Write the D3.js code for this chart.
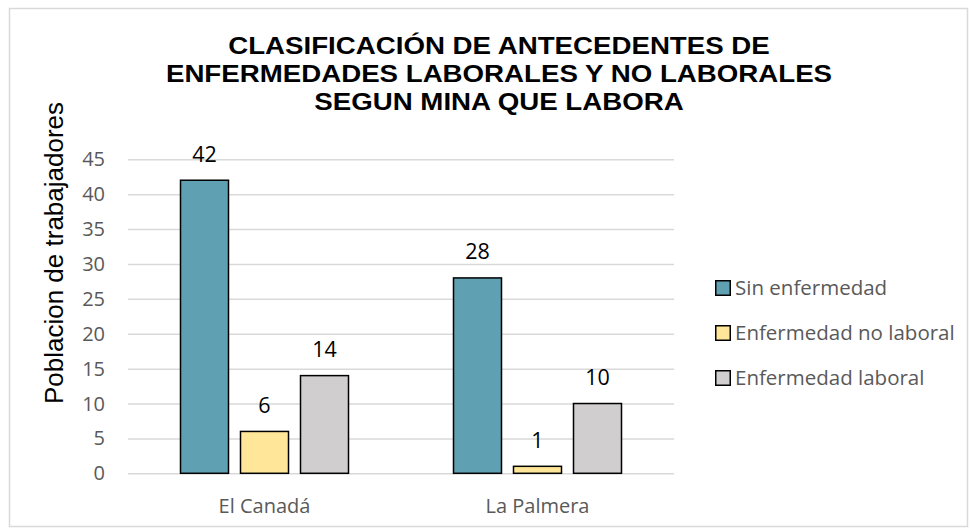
<!DOCTYPE html>
<html>
<head>
<meta charset="utf-8">
<script src="https://cdn.jsdelivr.net/npm/d3@7"></script>
<style>
  body { margin: 0; background: #fff; }
  .tick-label { font-family: "Open Sans", sans-serif; fill: #595959; }
  .grid line { stroke: #d9d9d9; stroke-width: 1.5; }
  .grid path { display: none; }
</style>
</head>
<body>
<svg id="chart" width="971" height="529"></svg>
<script>
// data
const categories = ['El Canadá', 'La Palmera'];
const seriesNames = ['Sin enfermedad', 'Enfermedad no laboral', 'Enfermedad laboral'];
const sinEnfermedad = [42, 28];
const enfermedadNoLaboral = [6, 1];
const enfermedadLaboral = [14, 10];
const yTicks = [0, 5, 10, 15, 20, 25, 30, 35, 40, 45];
const seriesColors = ['#5fa0b3', '#ffe699', '#d0cece'];
const titleLines = ['CLASIFICACIÓN DE ANTECEDENTES DE', 'ENFERMEDADES LABORALES Y NO LABORALES', 'SEGUN MINA QUE LABORA'];
const yTitle = 'Poblacion de trabajadores';

const seriesValues = [sinEnfermedad, enfermedadNoLaboral, enfermedadLaboral];

////////////////////////// SETUP //////////////////////////

const svg = d3.select('#chart');
const plot = { left: 128, right: 674, top: 159.3, bottom: 473.3 };

// chart frame
svg.append('rect')
  .attr('x', 9.5).attr('y', 8.5)
  .attr('width', 958).attr('height', 518)
  .attr('fill', '#fff')
  .attr('stroke', '#d9d9d9')
  .attr('stroke-width', 1.5);

const xScale = d3.scaleBand()
  .domain(categories)
  .range([plot.left, plot.right]);

const xSeries = d3.scaleBand()
  .domain(seriesNames)
  .range([0, xScale.bandwidth()])
  .paddingInner(0.2)
  .paddingOuter(0.875);

const yScale = d3.scaleLinear()
  .domain([0, 45])
  .range([plot.bottom, plot.top]);

const colorScale = d3.scaleOrdinal().domain(seriesNames).range(seriesColors);

////////////////////////// AXES //////////////////////////

// grid
svg.append('g')
  .attr('class', 'grid')
  .attr('transform', `translate(${plot.left},0)`)
  .call(d3.axisLeft(yScale).tickValues(yTicks).tickSize(-(plot.right - plot.left)).tickFormat(''));

// y tick labels
svg.append('g')
  .selectAll('text')
  .data(yTicks)
  .enter()
  .append('text')
  .attr('class', 'tick-label')
  .attr('x', 105)
  .attr('y', (d) => yScale(d))
  .attr('dy', '0.35em')
  .attr('text-anchor', 'end')
  .style('font-size', '20px')
  .text((d) => d);

// x category labels
svg.append('g')
  .selectAll('text')
  .data(categories)
  .enter()
  .append('text')
  .attr('class', 'tick-label')
  .attr('x', (d) => xScale(d) + xScale.bandwidth() / 2)
  .attr('y', 513)
  .attr('text-anchor', 'middle')
  .style('font-size', '20px')
  .text((d) => d);

// y axis title
svg.append('text')
  .attr('transform', 'translate(63,253) rotate(-90)')
  .attr('text-anchor', 'middle')
  .style('font-family', '"Liberation Sans", Arial, sans-serif')
  .style('font-size', '26px')
  .style('fill', '#000')
  .text(yTitle);

// title (slightly wide, like the original)
svg.append('g')
  .selectAll('text')
  .data(titleLines)
  .enter()
  .append('text')
  .attr('transform', (d, i) => `translate(499,${54 + i * 28}) scale(1.13,1)`)
  .attr('text-anchor', 'middle')
  .style('font-family', '"Liberation Sans", Arial, sans-serif')
  .style('font-weight', 'bold')
  .style('font-size', '24.5px')
  .style('fill', '#000')
  .text((d) => d);

////////////////////////// BARS //////////////////////////

const barData = [];
categories.forEach((c, ci) => {
  seriesNames.forEach((s, si) => {
    barData.push({ category: c, series: s, value: seriesValues[si][ci] });
  });
});

svg.append('g')
  .selectAll('rect')
  .data(barData)
  .enter()
  .append('rect')
  .attr('x', (d) => xScale(d.category) + xSeries(d.series))
  .attr('y', (d) => yScale(d.value))
  .attr('width', xSeries.bandwidth())
  .attr('height', (d) => plot.bottom - yScale(d.value))
  .style('fill', (d) => colorScale(d.series))
  .style('stroke', '#000')
  .style('stroke-width', 1.5);

// values on bars
svg.append('g')
  .selectAll('text')
  .data(barData)
  .enter()
  .append('text')
  .attr('x', (d) => xScale(d.category) + xSeries(d.series) + xSeries.bandwidth() / 2)
  .attr('y', (d) => yScale(d.value) - 18.5)
  .attr('text-anchor', 'middle')
  .style('font-family', '"Open Sans", sans-serif')
  .style('font-size', '21.5px')
  .style('fill', '#000')
  .text((d) => d.value);

////////////////////////// LEGEND //////////////////////////

const legend = svg.append('g')
  .selectAll('g')
  .data(seriesNames)
  .enter()
  .append('g')
  .attr('transform', (d, i) => `translate(715,${288 + i * 45})`);

legend.append('rect')
  .attr('x', 0.75).attr('y', -7.25)
  .attr('width', 14.5).attr('height', 14.5)
  .style('fill', (d) => colorScale(d))
  .style('stroke', '#000')
  .style('stroke-width', 1.5);

legend.append('text')
  .attr('class', 'tick-label')
  .attr('x', 20)
  .attr('dy', '0.35em')
  .style('font-size', '20.5px')
  .text((d) => d);
</script>
</body>
</html>
